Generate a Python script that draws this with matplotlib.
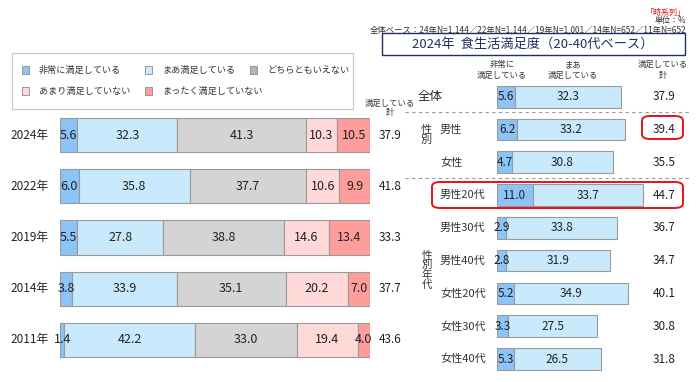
import matplotlib
matplotlib.use("Agg")
import matplotlib.pyplot as plt
from matplotlib.patches import Rectangle, FancyBboxPatch
from matplotlib.lines import Line2D

plt.rcParams['font.family'] = ['Noto Sans CJK JP', 'DejaVu Sans']

# 時系列データ
years = ['2024年', '2022年', '2019年', '2014年', '2011年']
hijou = [5.6, 6.0, 5.5, 3.8, 1.4]
maa = [32.3, 35.8, 27.8, 33.9, 42.2]
dochira = [41.3, 37.7, 38.8, 35.1, 33.0]
amari = [10.3, 10.6, 14.6, 20.2, 19.4]
mattaku = [10.5, 9.9, 13.4, 7.0, 4.0]
manzoku_kei = [37.9, 41.8, 33.3, 37.7, 43.6]

# 2024年 20-40代ベース
groups = ['全体', '男性', '女性', '男性20代', '男性30代', '男性40代', '女性20代', '女性30代', '女性40代']
g_hijou = [5.6, 6.2, 4.7, 11.0, 2.9, 2.8, 5.2, 3.3, 5.3]
g_maa = [32.3, 33.2, 30.8, 33.7, 33.8, 31.9, 34.9, 27.5, 26.5]
g_kei = [37.9, 39.4, 35.5, 44.7, 36.7, 34.7, 40.1, 30.8, 31.8]

legend_labels = ['非常に満足している', 'まあ満足している', 'どちらともいえない',
                 'あまり満足していない', 'まったく満足していない']
colors = ['#8CC4F7', '#C8EAFC', '#D4D4D4', '#FFD8D8', '#FF9C9C']
edge = '#9A9A9A'
W, H = 700, 382


def fx(x):
    return x / W


def fy(y):
    return 1 - y / H


fig = plt.figure(figsize=(7, 3.82), dpi=100)

# ---- left: time series ----
axL = fig.add_axes([fx(60), fy(365.5), 310 / W, 256 / H])
series = [hijou, maa, dochira, amari, mattaku]
left = [0] * len(years)
for vals, c in zip(series, colors):
    axL.barh(range(len(years)), vals, left=left, height=0.67,
             color=c, edgecolor=edge, linewidth=0.8)
    for i, (l, v) in enumerate(zip(left, vals)):
        axL.text(l + v / 2, i, f'{v:.1f}', ha='center', va='center',
                 fontsize=9, color='#222222')
    left = [a + b for a, b in zip(left, vals)]
axL.set_xlim(0, 100)
axL.set_ylim(4.5, -0.5)
axL.axis('off')
for i, (yl, k) in enumerate(zip(years, manzoku_kei)):
    axL.text(-3.6, i, yl, ha='right', va='center', fontsize=8.5, color='#222222')
    axL.text(106.5, i, f'{k:.1f}', ha='center', va='center', fontsize=8.5, color='#222222')
fig.text(fx(390), fy(108), '満足している\n計', ha='center', va='center',
         fontsize=6, linespacing=1.1, color='#333333')

# legend box
fig.patches.append(Rectangle((fx(12), fy(109)), 341 / W, 56 / H, transform=fig.transFigure,
                             facecolor='white', edgecolor='#C8C8C8', linewidth=0.8))
leg_pos = [(25, 70), (148, 70), (253, 70), (25, 91), (148, 91)]
leg_marker = colors[:]
leg_marker[2] = '#B4B4B4'
for (x, y), lab, c in zip(leg_pos, legend_labels, leg_marker):
    fig.patches.append(Rectangle((fx(x - 3.5), fy(y + 3.5)), 7 / W, 7 / H, transform=fig.transFigure,
                                 facecolor=c, edgecolor='#8A8A8A', linewidth=0.6))
    fig.text(fx(x + 14), fy(y), lab, ha='left', va='center', fontsize=6.6, color='#333333')

# ---- right: 2024 breakdown ----
axR = fig.add_axes([fx(497), fy(375.4), 163 / W, 295.1 / H])
axR.barh(range(len(groups)), g_hijou, height=0.66, color=colors[0], edgecolor=edge, linewidth=0.8)
axR.barh(range(len(groups)), g_maa, left=g_hijou, height=0.66, color=colors[1],
         edgecolor=edge, linewidth=0.8)
for i in range(len(groups)):
    axR.text(g_hijou[i] / 2, i, f'{g_hijou[i]:.1f}', ha='center', va='center', fontsize=8.5, color='#222222')
    axR.text(g_hijou[i] + g_maa[i] / 2, i, f'{g_maa[i]:.1f}', ha='center', va='center',
             fontsize=8.5, color='#222222')
    axR.text(51.2, i, f'{g_kei[i]:.1f}', ha='center', va='center', fontsize=8.5, color='#222222')
axR.set_xlim(0, 50)
axR.set_ylim(8.5, -0.5)
axR.axis('off')

# row labels
fig.text(fx(418), fy(96.7), groups[0], ha='left', va='center', fontsize=9, color='#222222')
for i in range(1, len(groups)):
    yc = 96.7 + i * 32.8
    fig.text(fx(440), fy(yc), groups[i], ha='left', va='center', fontsize=8, color='#333333')
fig.text(fx(426), fy(135), '性\n別', ha='center', va='center', fontsize=8, linespacing=1.0,
         color='#333333')
fig.text(fx(427), fy(270), '性\n別\n年\n代', ha='center', va='center', fontsize=7.5,
         linespacing=0.95, color='#333333')

# column headers
fig.text(fx(502), fy(70), '非常に\n満足している', ha='center', va='center', fontsize=6,
         linespacing=1.2, color='#333333')
fig.text(fx(573), fy(70), 'まあ\n満足している', ha='center', va='center', fontsize=6,
         linespacing=1.2, color='#333333')
fig.text(fx(663), fy(70), '満足している\n計', ha='center', va='center', fontsize=6,
         linespacing=1.2, color='#333333')

# dashed separators
for yy in (112, 178):
    fig.lines.append(Line2D([fx(405), fx(690)], [fy(yy), fy(yy)], transform=fig.transFigure,
                            color='#999999', linewidth=0.8, linestyle=(0, (3, 3))))

# red highlight boxes
for (x0, y0, x1, y1) in [(642, 116, 683, 139), (432, 182, 683, 208)]:
    fig.patches.append(FancyBboxPatch((fx(x0), fy(y1)), (x1 - x0) / W, (y1 - y0) / H,
                                      boxstyle='round,pad=0,rounding_size=0.012',
                                      transform=fig.transFigure, facecolor='none',
                                      edgecolor='#E8101A', linewidth=1.4))

# title box
fig.patches.append(Rectangle((fx(382), fy(55)), 303 / W, 22 / H, transform=fig.transFigure,
                             facecolor='white', edgecolor='#1F2F5F', linewidth=1.0))
fig.text(fx(533), fy(44), '2024年  食生活満足度（20-40代ベース）', ha='center', va='center',
         fontsize=9.5, color='#1F2F5F')

# top-right notes
fig.text(fx(686), fy(12), '「時系列」', ha='right', va='center', fontsize=5.8, color='#E8101A')
fig.text(fx(686), fy(21), '単位：%', ha='right', va='center', fontsize=5.8, color='#333333')
fig.text(fx(686), fy(29.5), '全体ベース：24年N=1,144／22年N=1,144／19年N=1,001／14年N=652／11年N=652',
         ha='right', va='center', fontsize=6.0, color='#333333')

fig.savefig('out.png', dpi=100, facecolor='white')
